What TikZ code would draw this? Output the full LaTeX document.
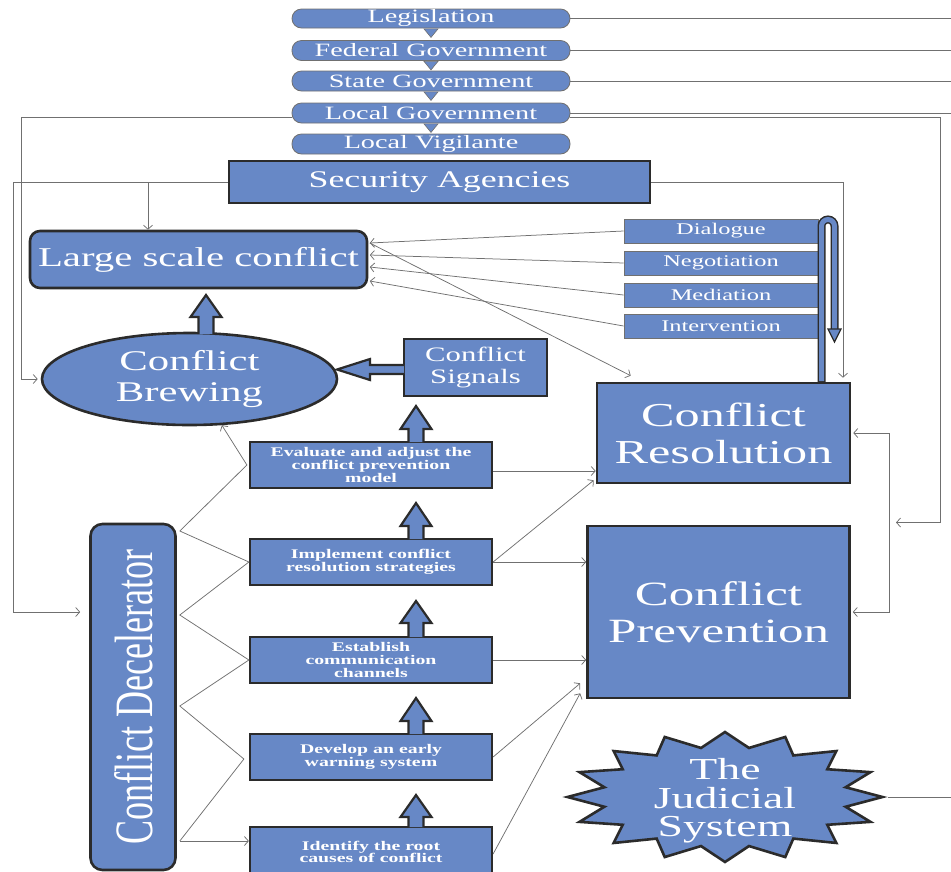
\documentclass[tikz,border=0pt]{standalone}
\usepackage{fontspec}
\setmainfont{Liberation Serif}
\newfontfamily\wide{Liberation Serif}[FakeStretch=1.5]
\newfontfamily\narrow{Liberation Serif}[FakeStretch=0.667]
\usetikzlibrary{arrows.meta,calc,shapes.geometric}
\definecolor{bfill}{HTML}{6788C6}
\definecolor{dk}{HTML}{2B2B2B}
\definecolor{ln}{HTML}{707070}
\newcommand\fs[2]{\fontsize{#1}{#2}\selectfont}
\newcommand\blockup[4]{\filldraw[blockar] ({#1-7.5},#4) -- ({#1-7.5},#3) -- ({#1-15.5},#3) -- (#1,#2) -- ({#1+15.5},#3) -- ({#1+7.5},#3) -- ({#1+7.5},#4);}
\begin{document}
\begin{tikzpicture}[x=1pt,y=-1pt,
  pill/.style={draw=ln, line width=0.8, fill=bfill, rounded corners=9.5, minimum width=278, minimum height=19, inner sep=0, text=white, font=\wide\fs{18.8}{20}},
  box/.style={draw=dk, line width=2.6, fill=bfill, inner sep=0, text=white, align=center},
  thin/.style={draw=ln, line width=0.9, fill=bfill, inner sep=0, text=white, minimum width=194, minimum height=24, font=\wide\fs{16.3}{18}},
  stepbox/.style={box, line width=2.2, minimum width=242, minimum height=46, font=\wide\bfseries\fs{13.2}{12.6}},
  conn/.style={draw=ln, line width=0.75},
  tip/.style={-{Straight Barb[length=4pt,width=9pt]}},
  back/.style={{Straight Barb[length=4pt,width=9pt]}-},
  both/.style={{Straight Barb[length=4pt,width=9pt]}-{Straight Barb[length=4pt,width=9pt]}},
  blockar/.style={draw=dk, line width=2.2, fill=bfill, line join=miter},
]
\clip (0,0) rectangle (951,871);

% top hierarchy
\node[pill] (leg) at (431,18.5) {Legislation};
\node[pill, minimum height=20] (fed) at (431,50.5) {Federal Government};
\node[pill, minimum height=20] (state) at (431,81) {State Government};
\node[pill, minimum height=20] (lg) at (431,113) {Local Government};
\node[pill, minimum height=20] (lv) at (431,144) {Local Vigilante};
\foreach \a in {leg,fed,state,lg}
  \draw[draw=ln, line width=0.6, fill=bfill] ($(\a.south)+(-7,0.5)$) -- ($(\a.south)+(7,0.5)$) -- ($(\a.south)+(0,9)$) -- cycle;

\node[box, minimum width=421, minimum height=42, font=\wide\fs{23.9}{26}] (sa) at (439.5,182) {Security Agencies};
\node[box, rounded corners=10, minimum width=337, minimum height=57, font=\wide\fs{27.2}{30}] (large) at (198.5,259.5) {Large scale conflict};
\node[ellipse, draw=dk, line width=2.6, fill=bfill, minimum width=295, minimum height=92, inner sep=0, text=white, align=center, font=\wide\fs{28.5}{31}] (brew) at (189.5,379) {Conflict\\Brewing};
\node[box, minimum width=143, minimum height=57, font=\wide\fs{20.5}{22}] (sig) at (475.5,367.5) {Conflict\\Signals};

\node[thin] (dia) at (721,231) {Dialogue};
\node[thin] (neg) at (721,263) {Negotiation};
\node[thin] (med) at (721,295) {Mediation};
\node[thin] (int) at (721,326) {Intervention};

% U-turn arrow
\draw[draw=dk, line width=8] (821.5,382) -- (821.5,226) arc[start angle=180, end angle=360, radius=6.5] -- (834.5,331);
\draw[draw=bfill, line width=5] (821.5,381) -- (821.5,226) arc[start angle=180, end angle=360, radius=6.5] -- (834.5,332);
\filldraw[draw=dk, line width=1.2, fill=bfill] (828,329) -- (841,329) -- (834.5,342) -- cycle;

\node[box, minimum width=253, minimum height=100, font=\wide\fs{33.5}{37}] (cr) at (723.5,433) {Conflict\\Resolution};
\node[box, minimum width=262, minimum height=172, font=\wide\fs{34}{37}] (cp) at (718.5,612) {Conflict\\Prevention};

\node[box, rounded corners=12, minimum width=85, minimum height=346] (dec) at (133,697) {};
\node[rotate=90, text=white, font=\narrow\fs{54}{54}, inner sep=0] (dectxt) at (134,697) {Conflict Decelerator};

\node[stepbox] (eval) at (371,465) {Evaluate and adjust the\\conflict prevention\\model};
\node[stepbox] (impl) at (371,562) {Implement conflict\\resolution strategies};
\node[stepbox] (est) at (371,660) {Establish\\communication\\channels};
\node[stepbox] (dev) at (371,757) {Develop an early\\warning system};
\node[stepbox, minimum height=50] (ident) at (371,852) {Identify the root\\causes of conflict};

% judicial star
\filldraw[draw=dk, line width=2.6, fill=bfill, line join=miter] plot[samples at={0,...,31}, variable=\k] ({725+(mod(\k,2)==0 ? 157.5 : 123)*cos(\k*11.25)}, {797-(mod(\k,2)==0 ? 65 : 50)*sin(\k*11.25)}) -- cycle;
\node[text=white, align=center, font=\wide\fs{30.5}{28.5}, inner sep=0] (jud) at (725,801) {The\\Judicial\\System};

% block arrows
\blockup{206}{295}{317}{334}
\filldraw[blockar] (404,365) -- (370,365) -- (370,359) -- (337,369.5) -- (370,380) -- (370,374) -- (404,374);
\blockup{416}{406}{429}{442}
\blockup{416}{503}{526}{539}
\blockup{416}{601}{623}{637}
\blockup{416}{698}{721}{734}
\blockup{416}{795}{817}{827}

% connectors: top
\coordinate (E) at (951,0);
\draw[conn] (leg.east) -- (leg.east -| E);
\draw[conn] (fed.east) -- (fed.east -| E);
\draw[conn] (state.east) -- (state.east -| E);
\draw[conn] (lg.east) -- (lg.east -| E);
\coordinate (lgR) at ($(lg.east)+(0,4)$);
\coordinate (bx) at (889,0);
\coordinate (xr) at (940,0);
\coordinate (bmid) at ($(cr.east -| bx)!0.5!(cp.east -| bx)$);
\draw[conn,tip] (lgR) -- (lgR -| xr) -- (xr |- bmid) -- ($(bmid)+(7,0)$);
\draw[conn,both,shorten <=2pt,shorten >=2pt] (cr.east) -- (cr.east -| bx) -- (cp.east -| bx) -- (cp.east);

\coordinate (lgL) at ($(lg.west)+(0,4)$);
\coordinate (xl) at (21,0);
\draw[conn,tip,shorten >=3pt] (lgL) -- (lgL -| xl) |- (brew.west);

\coordinate (xsa) at (13,0);
\coordinate (dtarget) at ($(dec.west)+(0,-85)$);
\draw[conn,tip,shorten >=9pt] (sa.west) -- (sa.west -| xsa) |- (dtarget);
\coordinate (xb) at (148,0);
\draw[conn,tip] (sa.west -| xb) -- (xb |- large.north);
\coordinate (xc) at (843,0);
\draw[conn,tip,shorten >=4pt] (sa.east) -- (sa.east -| xc) -- (xc |- cr.north);

% large scale conflict links
\coordinate (L1) at ($(large.east)+(1.5,-16.5)$);
\coordinate (L2) at ($(large.east)+(1.5,-4.5)$);
\coordinate (L3) at ($(large.east)+(1.5,7.5)$);
\coordinate (L4) at ($(large.east)+(1.5,21.5)$);
\draw[conn,back] (L1) -- (dia.west);
\draw[conn,back] (L2) -- (neg.west);
\draw[conn,back] (L3) -- (med.west);
\draw[conn,back] (L4) -- (int.west);
\draw[conn,tip] (L1) -- ($(cr.north west)+(35,-6)$);

% decelerator zigzag
\coordinate (d1) at ($(dec.east)+(3,-166)$);
\coordinate (d2) at ($(dec.east)+(3,-82)$);
\coordinate (d3) at ($(dec.east)+(3,9)$);
\coordinate (d4) at ($(dec.east)+(3,144)$);
\draw[conn,tip] (d1) -- ($(eval.west)+(-2,0)$) -- (brew.-55);
\draw[conn] (d1) -- (impl.west) -- (d2) -- (est.west) -- (d3) -- ($(dev.west)+(-5,2)$) -- (d4);
\draw[conn,tip] (d4) -- (d4 -| ident.west);

% right side
\coordinate (e1) at ($(eval.east)+(0,6)$);
\draw[conn,tip] (e1) -- (e1 -| cr.west);
\draw[conn,tip] (impl.east) -- (impl.east -| cp.west);
\draw[conn,tip] (impl.east) -- ($(cr.south west)+(-2,-4)$);
\draw[conn,tip] (est.east) -- (est.east -| cp.west);
\draw[conn,tip] (dev.east) -- ($(cp.south west)+(-6,-16)$);
\draw[conn,tip] ($(ident.east)+(0,2)$) -- ($(cp.south west)+(-6,-6)$);

\coordinate (jr) at (888,797);
\draw[conn] (jr) -- (jr -| E);
\end{tikzpicture}
\end{document}
